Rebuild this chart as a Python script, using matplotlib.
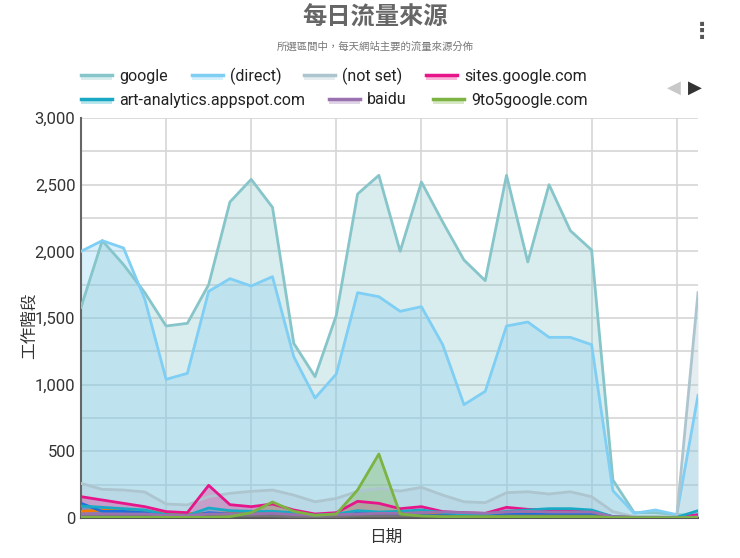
import matplotlib
matplotlib.use('Agg')
import matplotlib.pyplot as plt
from matplotlib.lines import Line2D
from matplotlib.patches import Rectangle
import numpy as np

# DATOS (30 días)
google = [1580, 2080, 1900, 1690, 1440, 1460, 1750, 2370, 2540, 2330,
          1310, 1060, 1520, 2430, 2570, 2000, 2520, 2220, 1935, 1780,
          2570, 1920, 2500, 2155, 2010, 285, 40, 40, 25, 20]
direct = [2000, 2080, 2025, 1640, 1040, 1085, 1700, 1795, 1740, 1810,
          1210, 900, 1080, 1690, 1660, 1550, 1585, 1300, 850, 950,
          1440, 1470, 1355, 1355, 1300, 205, 35, 60, 25, 920]
not_set = [260, 215, 210, 195, 105, 98, 160, 185, 200, 210,
           172, 122, 147, 200, 222, 202, 230, 172, 122, 115,
           190, 197, 180, 197, 160, 48, 10, 10, 5, 1690]
sites = [160, 135, 110, 85, 48, 40, 245, 100, 85, 105,
         60, 30, 40, 125, 110, 70, 85, 48, 40, 35,
         80, 65, 60, 55, 50, 10, 3, 3, 3, 25]
art = [90, 80, 70, 60, 25, 20, 75, 55, 50, 50,
       40, 20, 30, 55, 45, 50, 60, 40, 30, 30,
       50, 60, 70, 70, 60, 10, 5, 5, 5, 55]
baidu = [30, 30, 30, 30, 20, 20, 30, 30, 30, 35,
         25, 20, 25, 30, 35, 35, 40, 45, 40, 35,
         45, 50, 45, 45, 45, 10, 3, 3, 3, 10]
nine5 = [5, 5, 5, 5, 5, 5, 5, 10, 40, 120,
         50, 20, 30, 210, 480, 30, 15, 10, 10, 10,
         10, 10, 10, 10, 10, 3, 2, 2, 2, 5]
# series de la página 2 de la leyenda
otros = [
    ([50, 60, 55, 50, 40, 35, 30, 40, 45, 50, 30, 20, 30, 40, 40,
      50, 40, 40, 30, 30, 40, 40, 40, 40, 40, 10, 5, 5, 5, 10], '#f57c00'),
    ([110, 50, 50, 40, 20, 10, 40, 30, 30, 30, 20, 10, 20, 40, 30,
      30, 20, 20, 20, 20, 30, 30, 30, 30, 30, 5, 3, 3, 3, 10], '#1e6fdc'),
    ([20, 20, 20, 20, 10, 10, 15, 15, 15, 15, 10, 10, 10, 15, 15,
      15, 15, 15, 10, 10, 15, 15, 15, 15, 15, 5, 3, 3, 3, 5], '#757575'),
]

series = [
    ('google', google, '#86c5c9'),
    ('(direct)', direct, '#7fcef4'),
    ('(not set)', not_set, '#adc5cf'),
    ('sites.google.com', sites, '#e6168a'),
    ('art-analytics.appspot.com', art, '#1aa9c4'),
    ('baidu', baidu, '#9b72b0'),
    ('9to5google.com', nine5, '#7cb342'),
]

x = np.arange(len(google))
cjk = ['Noto Sans CJK TC', 'DejaVu Sans']
plt.rcParams['font.family'] = ['Roboto', 'Noto Sans CJK TC', 'DejaVu Sans']

fig = plt.figure(figsize=(7.4, 5.58), dpi=100)
ax = fig.add_axes([81/740, 40/558, 617/740, 400/558])

todas = [(s[1], s[2]) for s in series[:3]] + otros + [(s[1], s[2]) for s in series[3:]]
for vals, col in todas:
    ax.fill_between(x, 0, vals, color=col, alpha=0.3, linewidth=0, zorder=2)
    ax.plot(x, vals, color=col, linewidth=2, zorder=3)

ax.set_xlim(0, 29)
ax.set_ylim(0, 3000)
ax.set_xticks(np.arange(4, 29, 4))
ax.set_xticklabels([])
ax.set_yticks(np.arange(0, 3001, 250))
ax.set_yticklabels(['{:,}'.format(v) if v % 500 == 0 else '' for v in range(0, 3001, 250)],
                   fontsize=12, color='#333333')
ax.tick_params(length=0, pad=4)
ax.grid(True, color='#d6d6d6', linewidth=1.2, zorder=1)
ax.set_axisbelow(True)
for s in ['top', 'right']:
    ax.spines[s].set_visible(False)
ax.spines['left'].set_color('#666666')
ax.spines['left'].set_linewidth(1.5)
ax.spines['bottom'].set_color('#555555')
ax.spines['bottom'].set_linewidth(1.5)

ax.set_ylabel('工作階段', family=cjk, fontsize=12, color='#333333', style='italic')
ax.yaxis.set_label_coords(-0.083, 0.48)
ax.set_xlabel('日期', family=cjk, fontsize=12, color='#333333', style='italic')
ax.xaxis.set_label_coords(0.493, -0.0475)
ax.xaxis.label.set_va('center')
ax.yaxis.label.set_va('center')

# TITULOS
fig.text(375/740, 1 - 18/558, '每日流量來源', family=cjk, fontsize=17.5, fontweight='bold',
         color='#666666', ha='center', va='center')
fig.text(375/740, 1 - 47/558, '所選區間中，每天網站主要的流量來源分佈', family=cjk, fontsize=7.5,
         color='#777777', ha='center', va='center')
fig.text(702/740, 1 - 32/558, '⋮', family=['DejaVu Sans'], fontsize=16, color='#555555',
         ha='center', va='center', fontweight='bold')

# LEYENDA
pos = [(81, 76), (192, 76), (304, 76), (426, 76), (81, 100), (329, 100), (433, 100)]
for (nombre, vals, col), (px, py) in zip(series, pos):
    x0, x1 = px/740, (px + 31)/740
    yl = 1 - (py - 1.5)/558
    fig.add_artist(Rectangle((x0, 1 - (py + 4)/558), 31/740, 5.5/558,
                             transform=fig.transFigure, color=col, alpha=0.3, lw=0))
    fig.add_artist(Line2D([x0, x1], [yl, yl], transform=fig.transFigure,
                          color=col, linewidth=2.5))
    fig.text((px + 38)/740, 1 - py/558, nombre, fontsize=11.5, color='#222222',
             ha='left', va='center')

fig.text(674/740, 1 - 88/558, '◀', family=['DejaVu Sans'], fontsize=13, color='#c8c8c8',
         ha='center', va='center')
fig.text(695/740, 1 - 88/558, '▶', family=['DejaVu Sans'], fontsize=13, color='#333333',
         ha='center', va='center')

fig.savefig('out.png', dpi=100)
